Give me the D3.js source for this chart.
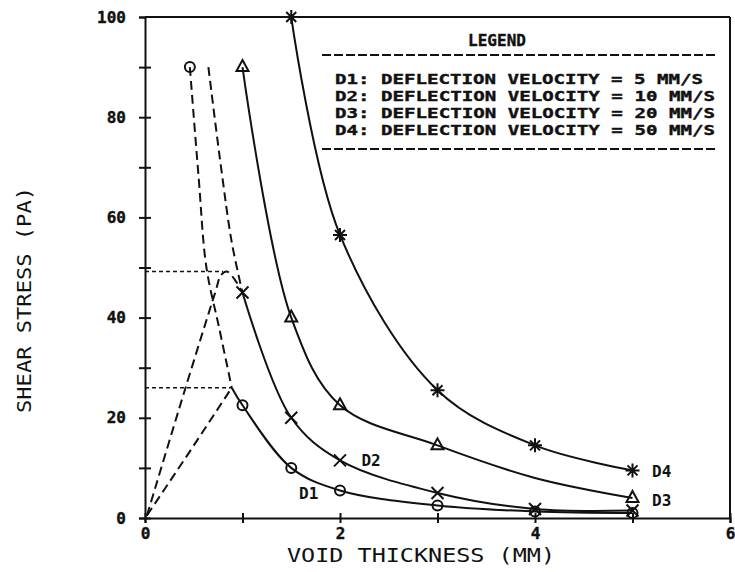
<!DOCTYPE html>
<html>
<head>
<meta charset="UTF-8">
<title>Shear stress vs void thickness</title>
<script src="https://d3js.org/d3.v7.min.js"></script>
<style>
  body { margin: 0; background: #fff; }
  svg { display: block; }
  .mono { font-family: "DejaVu Sans Mono", monospace; font-weight: bold; fill: #111; }
</style>
</head>
<body>
<svg width="735" height="572"></svg>
<script>
// ---- data ----
const xTickValues = [0, 1, 2, 3, 4, 5, 6];
const xTickLabels = ["0", "", "2", "", "4", "", "6"];
const yTickValues = [0, 10, 20, 30, 40, 50, 60, 70, 80, 90, 100];
const yTickLabels = ["0", "", "20", "", "40", "", "60", "", "80", "", "100"];

const legendLines = [
  "D1: DEFLECTION VELOCITY = 5 MM/S",
  "D2: DEFLECTION VELOCITY = 10 MM/S",
  "D3: DEFLECTION VELOCITY = 20 MM/S",
  "D4: DEFLECTION VELOCITY = 50 MM/S"
];

// solid measured curves (x mm, y Pa) and which points carry a marker
const d1Solid = [[0.89, 26], [1, 22.5], [1.5, 10], [2, 5.5], [3, 2.5], [4, 1.3], [5, 1]];
const d1Marked = [[0.46, 90], [1, 22.5], [1.5, 10], [2, 5.5], [3, 2.5], [4, 1.3], [5, 1]];
const d2Solid = [[1, 45], [1.5, 20], [2, 11.5], [3, 5], [4, 1.8], [5, 1.5]];
const d2Marked = [[1, 45], [1.5, 20], [2, 11.5], [3, 5], [4, 1.8], [5, 1.5]];
const d3Solid = [[1, 90], [1.5, 40], [2, 22.5], [3, 14.5], [4, 8], [5, 4]];
const d3Marked = [[1, 90], [1.5, 40], [2, 22.5], [3, 14.5], [5, 4]];
const d4Solid = [[1.5, 100], [2, 56.5], [3, 25.5], [4, 14.5], [5, 9.5]];
const d4Marked = [[1.5, 100], [2, 56.5], [3, 25.5], [4, 14.5], [5, 9.5]];

// dashed extrapolations and rise branches
const d1Upper = [[0.46, 90], [0.55, 68], [0.63, 50], [0.76, 38], [0.89, 26]];
const d1Rise = [[0.02, 0.5], [0.45, 13], [0.89, 26]];
const d2Upper = [[0.65, 90], [0.78, 70], [0.89, 55], [1, 45]];
const d2Rise = [[0.02, 0.5], [0.4, 25], [0.72, 45], [0.78, 48.5], [0.84, 49.2], [0.92, 47.6], [1, 45]];

// dotted peak guides
const peakLevels = [[49.2, 0.8], [26, 0.89]];

const curveLabels = [
  { text: "D1", x: 1.58, y: 5 },
  { text: "D2", x: 2.22, y: 11.5 },
  { text: "D3", x: 5.2, y: 3.5 },
  { text: "D4", x: 5.2, y: 9.3 }
];

// ---- layout ----
const svg = d3.select("svg");
const x = d3.scaleLinear().domain([0, 6]).range([145, 730]);
const y = d3.scaleLinear().domain([0, 100]).range([518, 17]);

const line = d3.line().x(d => x(d[0])).y(d => y(d[1]));
const smooth = d3.line().x(d => x(d[0])).y(d => y(d[1])).curve(d3.curveCatmullRom.alpha(0.5));

// frame top and right
svg.append("line").attr("x1", x(0)).attr("x2", x(6)).attr("y1", y(100)).attr("y2", y(100))
  .attr("stroke", "#111").attr("stroke-width", 2);
svg.append("line").attr("x1", x(6)).attr("x2", x(6)).attr("y1", y(100)).attr("y2", y(0))
  .attr("stroke", "#111").attr("stroke-width", 2);

// axes
const xAxis = svg.append("g").attr("transform", `translate(0,${y(0)})`)
  .call(d3.axisBottom(x).tickValues(xTickValues).tickFormat((d, i) => xTickLabels[i])
    .tickSizeOuter(0).tickSize(5).tickPadding(5));
xAxis.selectAll(".tick line").attr("y1", -5).attr("y2", 5);

const yAxis = svg.append("g").attr("transform", `translate(${x(0)},0)`)
  .call(d3.axisLeft(y).tickValues(yTickValues).tickFormat((d, i) => yTickLabels[i])
    .tickSizeOuter(0).tickSize(6).tickPadding(13));
yAxis.selectAll(".tick line").attr("x1", -6).attr("x2", 6);
yAxis.select(".tick:last-child line").attr("x2", 0);

[xAxis, yAxis].forEach(a => {
  a.select(".domain").attr("stroke", "#111").attr("stroke-width", 2);
  a.selectAll(".tick line").attr("stroke", "#111").attr("stroke-width", 2);
  a.selectAll(".tick text").attr("class", "mono").style("font-size", "16px").attr("fill", "#111")
    .attr("stroke", "#111").attr("stroke-width", 0.4);
});

// axis titles
svg.append("text").attr("x", 421).attr("y", 562).attr("text-anchor", "middle")
  .attr("textLength", 268).attr("lengthAdjust", "spacingAndGlyphs")
  .style("font-family", "'DejaVu Sans Mono', monospace").style("font-size", "20px").attr("fill", "#111")
  .text("VOID THICKNESS (MM)");

svg.append("text").attr("transform", "translate(31,300) rotate(-90)").attr("text-anchor", "middle")
  .attr("textLength", 226).attr("lengthAdjust", "spacingAndGlyphs")
  .style("font-family", "'DejaVu Sans Mono', monospace").style("font-size", "19px").attr("fill", "#111")
  .text("SHEAR STRESS (PA)");

// dotted guides
peakLevels.forEach(p => {
  svg.append("path").attr("d", line([[0, p[0]], [p[1], p[0]]]))
    .attr("fill", "none").attr("stroke", "#111").attr("stroke-width", 1.6).attr("stroke-dasharray", "4,3");
});

// dashed branches
[[d1Upper, smooth], [d1Rise, line], [d2Upper, smooth], [d2Rise, smooth]].forEach(([pts, gen]) => {
  svg.append("path").attr("d", gen(pts))
    .attr("fill", "none").attr("stroke", "#111").attr("stroke-width", 2).attr("stroke-dasharray", "9,5");
});

// solid curves
[d1Solid, d2Solid, d3Solid, d4Solid].forEach(pts => {
  svg.append("path").attr("d", smooth(pts))
    .attr("fill", "none").attr("stroke", "#111").attr("stroke-width", 2);
});

// markers
const mk = svg.append("g").attr("stroke", "#111").attr("stroke-width", 2).attr("fill", "none");
d1Marked.forEach(d => {
  mk.append("circle").attr("cx", x(d[0])).attr("cy", y(d[1])).attr("r", 5);
});
d2Marked.forEach(d => {
  const cx = x(d[0]), cy = y(d[1]), s = 6;
  mk.append("path").attr("d", `M${cx - s},${cy - s}L${cx + s},${cy + s}M${cx - s},${cy + s}L${cx + s},${cy - s}`);
});
d3Marked.forEach(d => {
  const cx = x(d[0]), cy = y(d[1]);
  mk.append("path").attr("d", `M${cx},${cy - 7}L${cx + 6},${cy + 4}L${cx - 6},${cy + 4}Z`);
});
d4Marked.forEach(d => {
  const cx = x(d[0]), cy = y(d[1]), s = 5;
  mk.append("path").attr("d",
    `M${cx - s},${cy - s}L${cx + s},${cy + s}M${cx - s},${cy + s}L${cx + s},${cy - s}` +
    `M${cx},${cy - 7}L${cx},${cy + 7}M${cx - 7},${cy}L${cx + 7},${cy}`);
});

// curve labels
curveLabels.forEach(l => {
  svg.append("text").attr("class", "mono").attr("x", x(l.x)).attr("y", y(l.y)).attr("dy", "0.36em")
    .style("font-size", "16px").text(l.text);
});

// legend
const lg = svg.append("g");
lg.append("text").attr("class", "mono").attr("x", 497).attr("y", 46).attr("text-anchor", "middle")
  .style("font-size", "16px").attr("stroke", "#111").attr("stroke-width", 0.4).text("LEGEND");
[55, 149].forEach(yy => {
  lg.append("line").attr("x1", 322).attr("x2", 717).attr("y1", yy).attr("y2", yy)
    .attr("stroke", "#111").attr("stroke-width", 2).attr("stroke-dasharray", "9,3");
});
legendLines.forEach((t, i) => {
  lg.append("text").attr("class", "mono").attr("x", 335).attr("y", 84 + i * 17)
    .attr("textLength", i === 0 ? 368 : 380).attr("lengthAdjust", "spacingAndGlyphs")
    .attr("stroke", "#111").attr("stroke-width", 0.4)
    .style("font-size", "14.5px").text(t);
});
</script>
</body>
</html>
